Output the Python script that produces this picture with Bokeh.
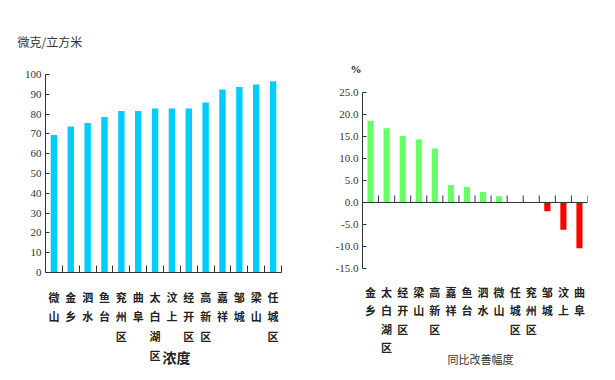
from bokeh.plotting import figure
from bokeh.layouts import row
from bokeh.models import FixedTicker, Span, PrintfTickFormatter, Range1d, Title
from bokeh.embed import file_html
from bokeh.resources import INLINE

# ---- data ----
conc_cats = ["微山", "金乡", "泗水", "鱼台", "兖州区", "曲阜", "太白湖区", "汶上",
             "经开区", "高新区", "嘉祥", "邹城", "梁山", "任城区"]
conc_vals = [69.5, 73.7, 75.5, 78.5, 81.6, 81.6, 82.8, 82.8, 82.8, 85.8, 92.4, 93.7, 94.9, 96.6]
conc_ticks = [0, 10, 20, 30, 40, 50, 60, 70, 80, 90, 100]

chg_cats = ["金乡", "太白湖区", "经开区", "梁山", "高新区", "嘉祥", "鱼台", "泗水",
            "微山", "任城区", "兖州区", "邹城", "汶上", "曲阜"]
chg_vals = [18.6, 16.9, 15.1, 14.3, 12.3, 4.0, 3.5, 2.4, 1.4, 0.0, 0.0, -2.0, -6.2, -10.4]
chg_ticks = [-15, -10, -5, 0, 5, 10, 15, 20, 25]

conc_unit = "微克/立方米"
conc_title = "浓度"
chg_unit = "%"
chg_title = "同比改善幅度"

NUM_FONT = "Liberation Sans Narrow"
CJK_FONT = "Noto Sans CJK SC"
AX = "#333333"


def style_common(p, cats, standoff, lh):
    p.grid.visible = False
    p.outline_line_color = None
    p.background_fill_color = "white"
    p.border_fill_color = "white"
    n = len(cats)
    xa = p.xaxis[0]
    xa.ticker = FixedTicker(ticks=list(range(n)), minor_ticks=[i + 0.5 for i in range(n)])
    xa.major_label_overrides = {i: "\n".join(c) for i, c in enumerate(cats)}
    xa.major_tick_line_color = None
    xa.major_label_text_font = CJK_FONT
    xa.major_label_text_font_style = "bold"
    xa.major_label_text_font_size = "11px"
    xa.major_label_text_color = "#222222"
    xa.major_label_text_line_height = lh
    xa.major_label_standoff = standoff
    ya = p.yaxis[0]
    ya.axis_line_color = AX
    ya.major_tick_line_color = AX
    ya.major_tick_in = 4
    ya.major_tick_out = 0
    ya.minor_tick_line_color = None
    ya.major_label_text_font = NUM_FONT
    ya.major_label_text_font_size = "11px"
    ya.major_label_text_color = "#333333"
    ya.major_label_standoff = 4


def add_title(p, text, side, offset, standoff, valign, size, style, color, font):
    p.add_layout(Title(text=text, align="left", offset=offset, standoff=standoff,
                       vertical_align=valign, text_font=font, text_font_size=size,
                       text_font_style=style, text_color=color), side)


# ---- left: concentration ----
n1 = len(conc_cats)
p1 = figure(frame_width=236, frame_height=198, x_range=Range1d(-0.5, n1 - 0.5),
            y_range=Range1d(0, 100), title=None,
            output_backend="svg", toolbar_location=None,
            min_border_left=45, min_border_right=37, min_border_top=74, min_border_bottom=104)
p1.vbar(x=list(range(n1)), top=conc_vals, width=0.38, fill_color="#00CCFF", line_color=None)
style_common(p1, conc_cats, 10, 1.22)
p1.yaxis[0].ticker = FixedTicker(ticks=conc_ticks)
xa1 = p1.xaxis[0]
xa1.axis_line_color = AX
xa1.minor_tick_line_color = AX
xa1.minor_tick_in = 7
xa1.minor_tick_out = 0
add_title(p1, conc_unit, "above", -28, 50, "bottom", "12px", "normal", "#333333", CJK_FONT)
add_title(p1, conc_title, "below", 117, -40, "top", "14px", "bold", "#222222", CJK_FONT)

# ---- right: change ----
n2 = len(chg_cats)
# frame shares vertical borders with the left chart; the range is padded so that
# the -15..25 axis occupies its own band within that frame
p2 = figure(frame_width=225, frame_height=198, x_range=Range1d(-0.5, n2 - 0.5),
            y_range=Range1d(-15.91, 29.09), title=None,
            output_backend="svg", toolbar_location=None,
            min_border_left=44, min_border_right=20, min_border_top=74, min_border_bottom=104)
colors = ["#66FF66" if v >= 0 else "#FF0000" for v in chg_vals]
p2.vbar(x=list(range(n2)), top=chg_vals, width=0.38, fill_color=colors, line_color=None)
style_common(p2, chg_cats, 5, 1.16)
ya2 = p2.yaxis[0]
ya2.ticker = FixedTicker(ticks=chg_ticks)
ya2.formatter = PrintfTickFormatter(format="%.1f")
ya2.bounds = (chg_ticks[0], chg_ticks[-1])
xa2 = p2.xaxis[0]
xa2.axis_line_color = None
xa2.minor_tick_line_color = None
p2.add_layout(Span(location=0, dimension="width", line_color=AX, line_width=1))
bounds = [i + 0.5 for i in range(n2)]
p2.segment(x0=bounds, y0=[0] * n2, x1=bounds, y1=[1.6] * n2, line_color=AX, line_width=1)
add_title(p2, chg_unit, "above", -12, 0, "bottom", "11px", "bold", "#222222", NUM_FONT)
add_title(p2, chg_title, "below", 85, -16, "top", "11px", "normal", "#333333", CJK_FONT)

layout = row(p1, p2)
open("out.html", "w").write(file_html(layout, INLINE))
